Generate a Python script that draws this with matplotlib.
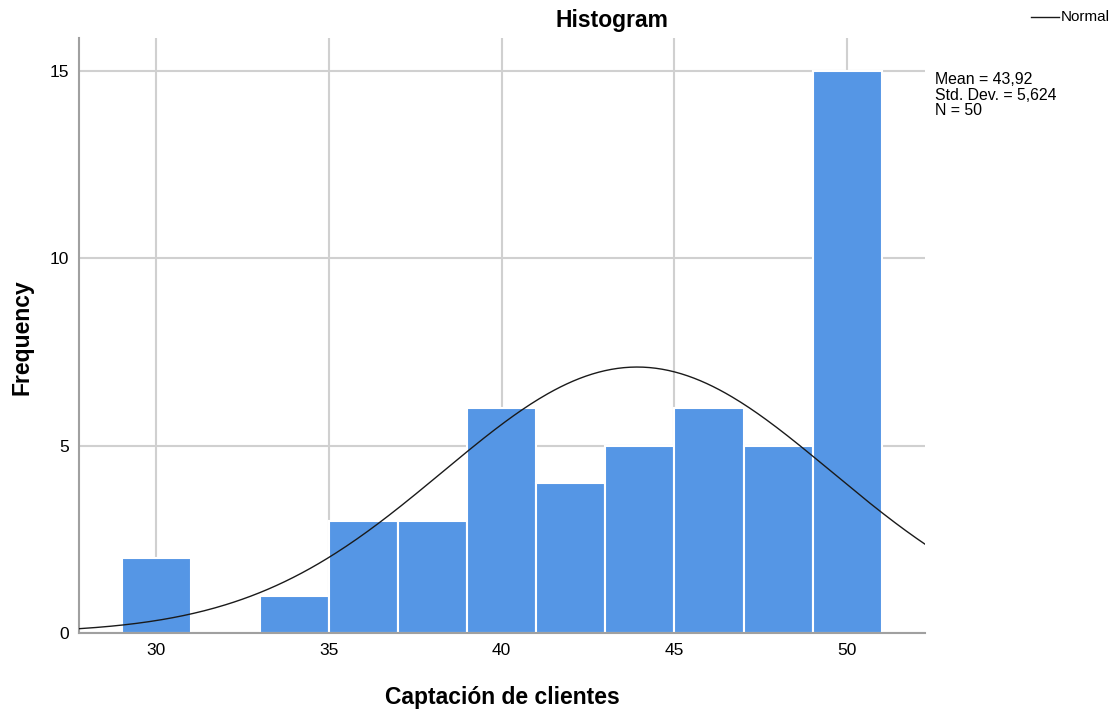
import numpy as np
import matplotlib.pyplot as plt
from matplotlib.lines import Line2D

# bin edges and frequencies (bin width 2)
bin_left = [29, 31, 33, 35, 37, 39, 41, 43, 45, 47, 49]
counts = [2, 0, 1, 3, 3, 6, 4, 5, 6, 5, 15]
bin_width = 2

mean_val = 43.92
std_val = 5.624
n_val = 50

xticks = [30, 35, 40, 45, 50]
yticks = [0, 5, 10, 15]

plt.rcParams['font.family'] = ['Liberation Sans', 'DejaVu Sans']

fig = plt.figure(figsize=(11.18, 7.11), dpi=100)
ax = fig.add_axes([0.0707, 0.1097, 0.7567, 0.8369])

ax.bar(bin_left, counts, width=bin_width, align='edge', color='#5596e5',
       edgecolor='white', linewidth=1.5, zorder=2)

# normal curve scaled to counts
xs = np.linspace(27.77, 52.25, 400)
ys = n_val * bin_width / (std_val * np.sqrt(2 * np.pi)) * np.exp(-0.5 * ((xs - mean_val) / std_val) ** 2)
ax.plot(xs, ys, color='#1a1a1a', linewidth=1.0, zorder=3)

ax.set_xlim(27.77, 52.25)
ax.set_ylim(0, 15.87)
ax.set_xticks(xticks)
ax.set_yticks(yticks)
ax.tick_params(axis='x', length=0, labelsize=12.5, colors='black', pad=7)
ax.tick_params(axis='y', length=0, labelsize=12.5, colors='black', pad=7)
ax.grid(True, color='#d0d0d0', linewidth=1.5, zorder=0)
ax.set_axisbelow(True)
for s in ['top', 'right']:
    ax.spines[s].set_visible(False)
for s in ['left', 'bottom']:
    ax.spines[s].set_color('#a0a0a0')
    ax.spines[s].set_linewidth(1.5)

# title centred like the SPSS output (not over the axes)
fig.text(612 / 1118, 1 - 21 / 711, 'Histogram', fontsize=16.5, fontweight='bold',
         ha='center', va='center')
ax.set_xlabel('Captación de clientes', fontsize=16.5, fontweight='bold', labelpad=20)
fig.text(22 / 1118, 1 - 337 / 711, 'Frequency', fontsize=16.5, fontweight='bold',
         rotation=90, ha='center', va='center')

# legend + stats
fig.lines.append(Line2D([1031 / 1118, 1059 / 1118], [1 - 17 / 711, 1 - 17 / 711],
                        color='#1a1a1a', linewidth=1.0, transform=fig.transFigure))
fig.text(1061 / 1118, 1 - 17 / 711, 'Normal', fontsize=11, va='center', ha='left')
fig.text(935 / 1118, 1 - 72 / 711,
         'Mean = 43,92\nStd. Dev. = 5,624\nN = 50',
         fontsize=11.4, va='top', ha='left', linespacing=1.06)

fig.savefig('out.png', dpi=100)
